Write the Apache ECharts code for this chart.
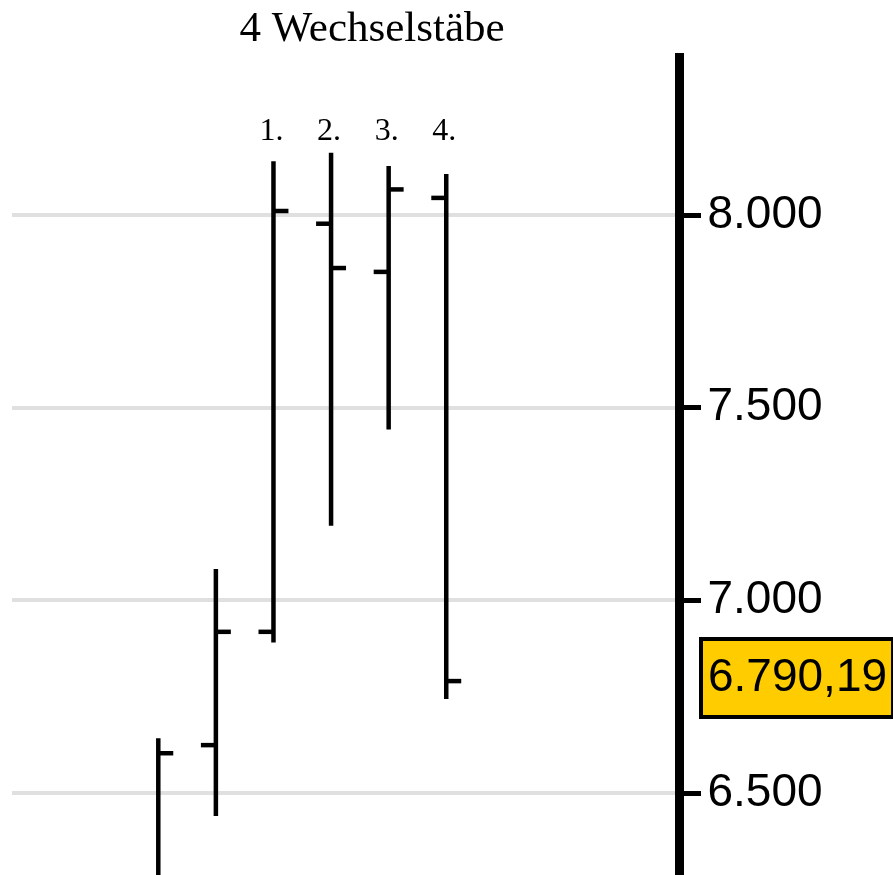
<!DOCTYPE html>
<html>
<head>
<meta charset="utf-8">
<script src="https://cdn.jsdelivr.net/npm/echarts@6/dist/echarts.min.js"></script>
<style>
html,body{margin:0;padding:0;background:#fff;}
#chart{width:893px;height:875px;}
</style>
</head>
<body>
<div id="chart"></div>
<script>
// ---- data ----
var categories = ['A', 'B', 'C1', 'C2', 'C3', 'C4'];
var barLabels  = ['', '', '1.', '2.', '3.', '4.'];
var opens  = [6270, 6624, 6918, 7977, 7852, 8044];
var highs  = [6642, 7081, 8139, 8161, 8127, 8106];
var lows   = [6200, 6440, 6890, 7193, 7443, 6744];
var closes = [6603, 6918, 8010, 7862, 8066, 6790.19];
var yTicks = [6500, 7000, 7500, 8000];
var lastPrice = 6790.19;
var titleText = '4 Wechselstäbe';

function fmtInt(v) {
  return String(Math.round(v)).replace(/\B(?=(\d{3})+(?!\d))/g, '.');
}
function fmtPrice(v) {
  var parts = v.toFixed(2).split('.');
  return parts[0].replace(/\B(?=(\d{3})+(?!\d))/g, '.') + ',' + parts[1];
}

var seriesData = categories.map(function (c, i) {
  return [i, opens[i], highs[i], lows[i], closes[i]];
});

var chart = echarts.init(document.getElementById('chart'), null, {renderer: 'canvas'});
var option = {
  animation: false,
  backgroundColor: '#ffffff',
  title: {
    text: titleText,
    left: 372,
    top: 8,
    padding: 0,
    textAlign: 'center',
    textStyle: {
      fontFamily: 'Liberation Serif',
      fontSize: 43,
      fontWeight: 'normal',
      color: '#000'
    }
  },
  grid: {left: 12, right: 213.5, top: 53, bottom: 0, containLabel: false},
  xAxis: {
    type: 'value',
    min: -2.54,
    max: 9.05,
    show: false,
    splitLine: {show: false}
  },
  yAxis: {
    type: 'value',
    position: 'right',
    min: 6287,
    max: 8420,
    axisLine: {show: true, onZero: false, lineStyle: {color: '#000', width: 9, cap: 'butt'}},
    axisTick: {
      show: true,
      length: 21.5,
      customValues: yTicks,
      lineStyle: {color: '#000', width: 5}
    },
    axisLabel: {
      show: true,
      customValues: yTicks,
      margin: 28,
      color: '#000',
      fontFamily: 'Liberation Sans',
      fontSize: 46,
      formatter: function (v) { return fmtInt(v); }
    },
    splitLine: {show: true, lineStyle: {color: '#e0e0e0', width: 4}}
  },
  series: [{
    type: 'custom',
    clip: false,
    data: seriesData,
    encode: {x: 0, y: [1, 2, 3, 4]},
    renderItem: function (params, api) {
      var x = api.value(0);
      var pTop = api.coord([x, api.value(2)]);
      var pBot = api.coord([x, api.value(3)]);
      var pO = api.coord([x, api.value(1)]);
      var pC = api.coord([x, api.value(4)]);
      var tick = api.size([1, 0])[0] * 0.26;
      var st = {stroke: '#000', lineWidth: 4.5};
      var children = [
        {type: 'line', shape: {x1: pTop[0], y1: pTop[1], x2: pBot[0], y2: pBot[1]}, style: st},
        {type: 'line', shape: {x1: pO[0] - tick, y1: pO[1], x2: pO[0], y2: pO[1]}, style: st},
        {type: 'line', shape: {x1: pC[0], y1: pC[1], x2: pC[0] + tick, y2: pC[1]}, style: st}
      ];
      var lbl = barLabels[params.dataIndex];
      if (lbl) {
        children.push({
          type: 'text',
          style: {
            text: lbl,
            x: pTop[0] - 2,
            y: params.coordSys.y + 79,
            align: 'center',
            verticalAlign: 'middle',
            fontFamily: 'Liberation Serif',
            fontSize: 32,
            fill: '#000'
          }
        });
      }
      return {type: 'group', children: children};
    },
    markLine: {
      silent: true,
      symbol: 'none',
      animation: false,
      lineStyle: {color: 'rgba(0,0,0,0)', width: 1, type: 'solid'},
      label: {
        show: true,
        opacity: 1,
        position: 'end',
        distance: 23.5,
        offset: [0, -3],
        formatter: function (p) { return fmtPrice(p.value); },
        color: '#000',
        fontFamily: 'Liberation Sans',
        fontSize: 46,
        lineHeight: 46,
        backgroundColor: '#ffcc00',
        borderColor: '#000',
        borderWidth: 4,
        padding: [14, 4, 14, 5]
      },
      data: [{yAxis: lastPrice}]
    }
  }]
};
chart.setOption(option);
</script>
</body>
</html>
